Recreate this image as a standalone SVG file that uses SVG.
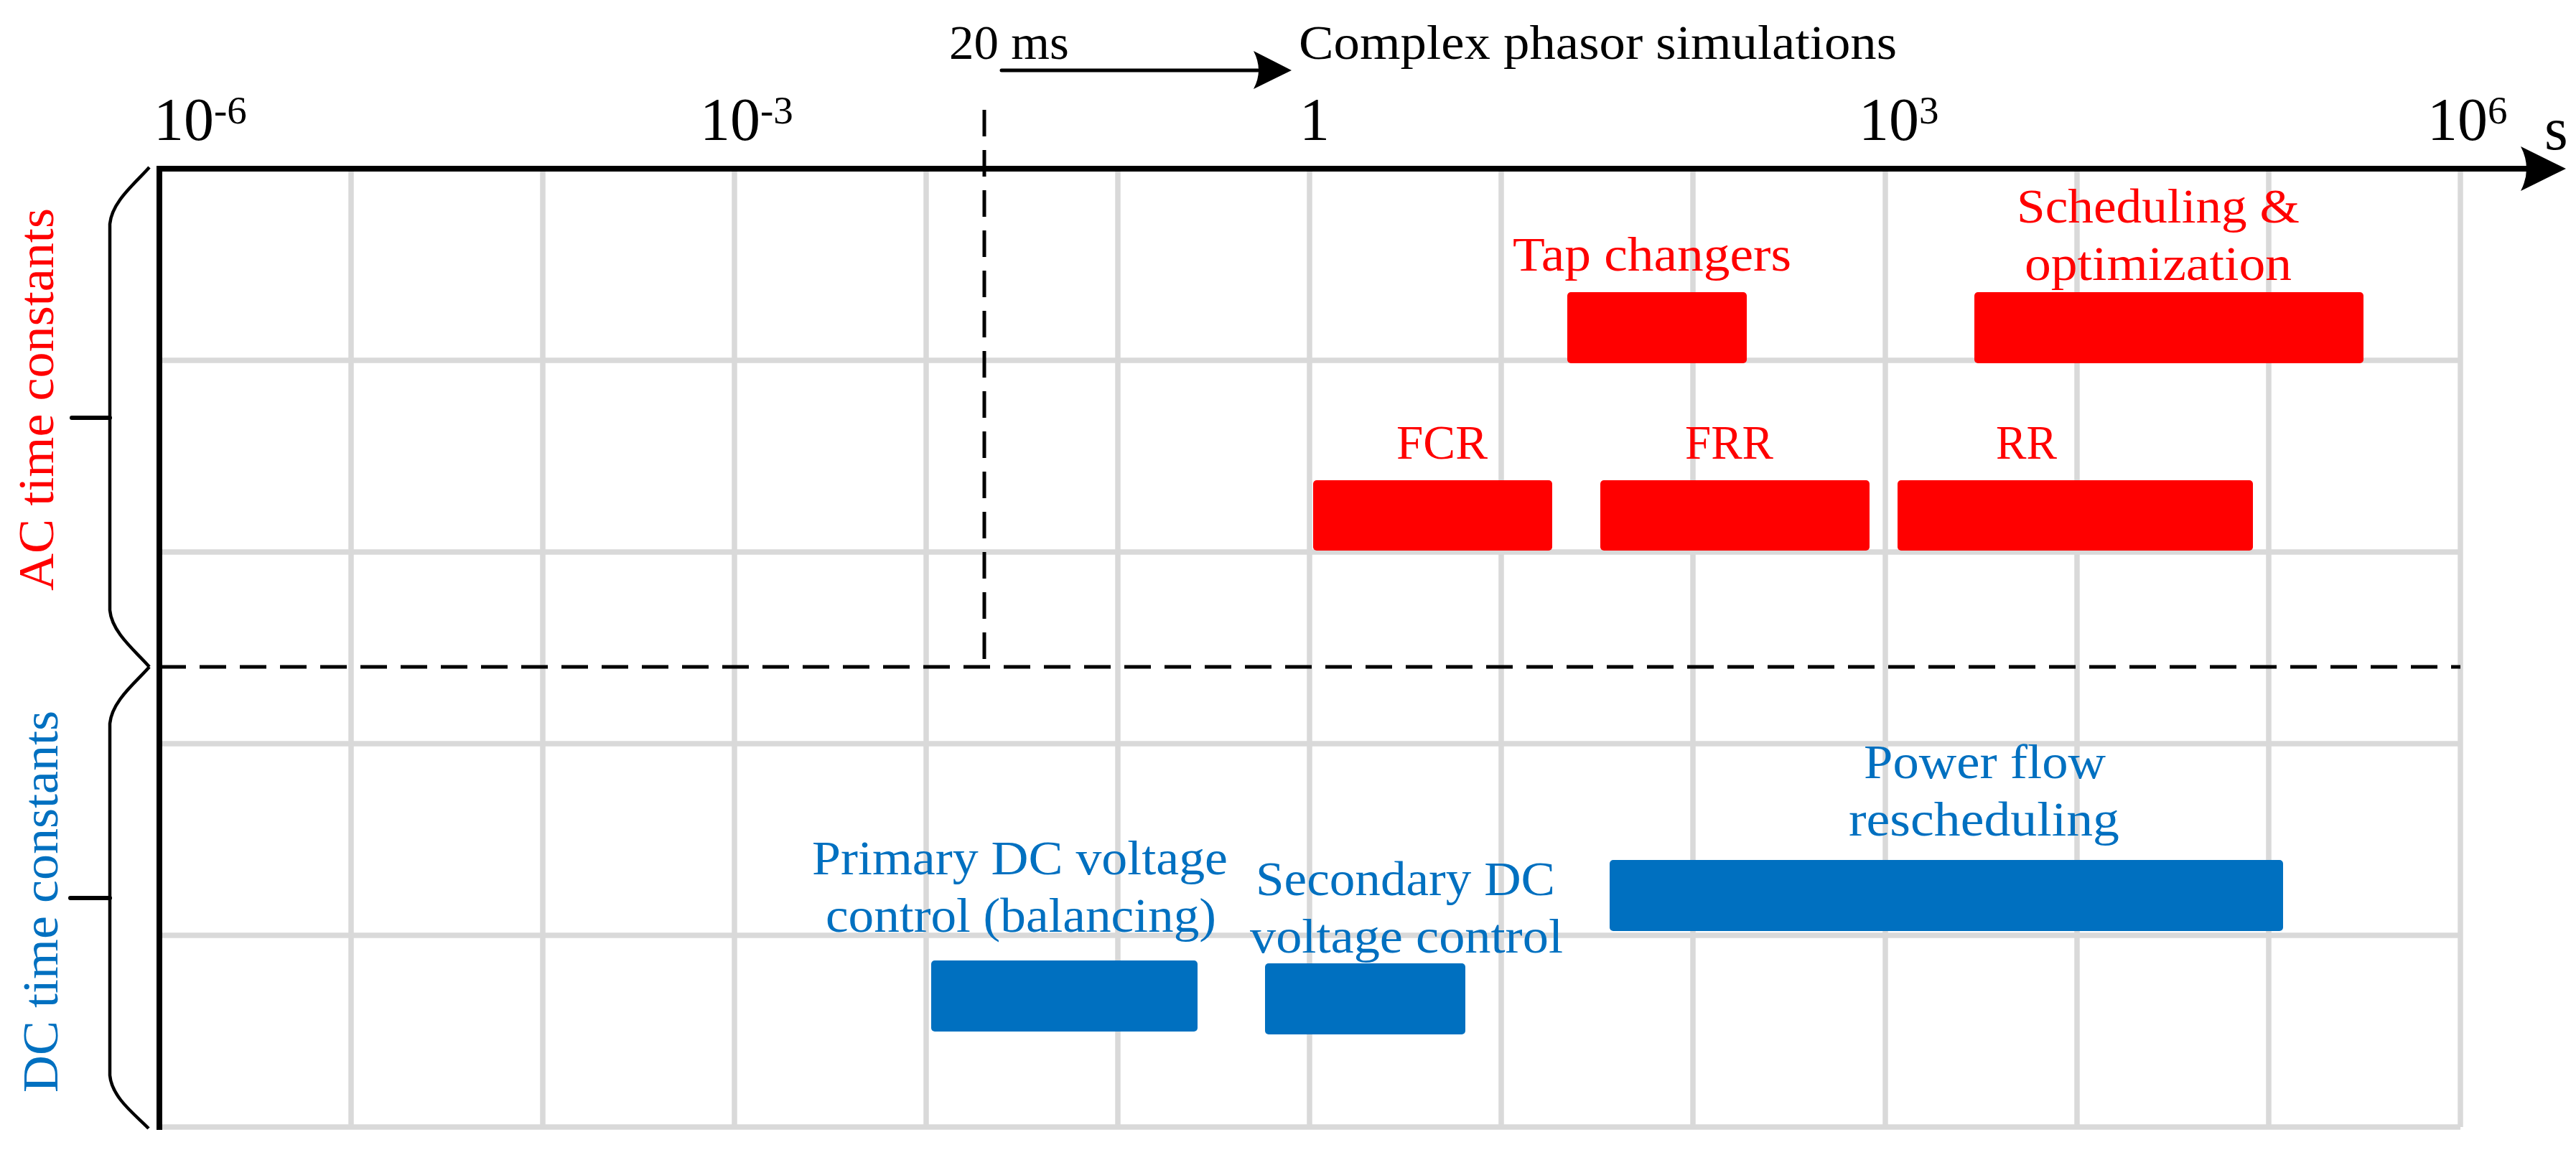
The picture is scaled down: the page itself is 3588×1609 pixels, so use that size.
<svg xmlns="http://www.w3.org/2000/svg" width="3588" height="1609" viewBox="0 0 3588 1609">
<style>
text { font-family: "Liberation Serif", "Times New Roman", serif; }
.grid { stroke: #d9d9d9; stroke-width: 7.5; fill: none; }
.ax { stroke: #000; fill: none; }
.lbl { font-size: 68px; }
.num { font-size: 84px; fill: #000; }
.sup { font-size: 55px; }
.red { fill: #ff0000; }
.blue { fill: #0070c0; }
.brace { stroke: #000; stroke-width: 4.5; fill: none; }
.tick { stroke: #000; stroke-width: 6; stroke-linecap: round; }
.dash { stroke: #000; stroke-width: 5; stroke-dasharray: 37 19; fill: none; }
</style>
<rect width="3588" height="1609" fill="#fff"/>
<g id="grid" class="grid">
<path d="M489,239V1570M756,239V1570M1023,239V1570M1290,239V1570M1557,239V1570M1824,239V1570M2091,239V1570M2358,239V1570M2626,239V1570M2893,239V1570M3160,239V1570M3427,239V1570"/>
<path d="M222,502H3427M222,769H3427M222,1036H3427M222,1303H3427M222,1570H3427"/>
</g>
<g id="bars">
<g id="tap-changers"><rect class="red" x="2183" y="407" width="250" height="99" rx="5"/><text class="lbl red" x="2107" y="377" textLength="388" lengthAdjust="spacingAndGlyphs">Tap changers</text></g>
<g id="scheduling"><rect class="red" x="2750" y="407" width="542" height="99" rx="5"/><text class="lbl red" x="2809" y="310" textLength="394" lengthAdjust="spacingAndGlyphs">Scheduling &amp;</text><text class="lbl red" x="2820" y="390" textLength="372" lengthAdjust="spacingAndGlyphs">optimization</text></g>
<g id="fcr"><rect class="red" x="1829" y="669" width="333" height="98" rx="5"/><text class="lbl red" x="1945" y="639" textLength="127" lengthAdjust="spacingAndGlyphs">FCR</text></g>
<g id="frr"><rect class="red" x="2229" y="669" width="375" height="98" rx="5"/><text class="lbl red" x="2347" y="639" textLength="123" lengthAdjust="spacingAndGlyphs">FRR</text></g>
<g id="rr"><rect class="red" x="2643" y="669" width="495" height="98" rx="5"/><text class="lbl red" x="2780" y="639" textLength="85" lengthAdjust="spacingAndGlyphs">RR</text></g>
<g id="primary-dc"><rect class="blue" x="1297" y="1338" width="371" height="99" rx="5"/><text class="lbl blue" x="1131" y="1218" textLength="579" lengthAdjust="spacingAndGlyphs">Primary DC voltage</text><text class="lbl blue" x="1150" y="1298" textLength="544" lengthAdjust="spacingAndGlyphs">control (balancing)</text></g>
<g id="secondary-dc"><rect class="blue" x="1762" y="1342" width="279" height="99" rx="5"/><text class="lbl blue" x="1749" y="1247" textLength="417" lengthAdjust="spacingAndGlyphs">Secondary DC</text><text class="lbl blue" x="1741" y="1327" textLength="436" lengthAdjust="spacingAndGlyphs">voltage control</text></g>
<g id="power-flow"><rect class="blue" x="2242" y="1198" width="938" height="99" rx="5"/><text class="lbl blue" x="2596" y="1084" textLength="337" lengthAdjust="spacingAndGlyphs">Power flow</text><text class="lbl blue" x="2575" y="1164" textLength="377" lengthAdjust="spacingAndGlyphs">rescheduling</text></g>
</g>
<g id="axes">
<line class="dash" x1="222" y1="929" x2="3427" y2="929"/>
<line class="dash" x1="1371" y1="153" x2="1371" y2="929"/>
<line class="ax" x1="222" y1="231" x2="222" y2="1574" stroke-width="8"/>
<line class="ax" x1="218" y1="235" x2="3522" y2="235" stroke-width="8"/>
<path d="M3574,235 L3511,204 Q3527,235 3511,266 Z" fill="#000"/>
<text class="num" x="3544" y="208">s</text>
<text class="num" x="214" y="195">10<tspan class="sup" dy="-23">-6</tspan></text>
<text class="num" x="975" y="195">10<tspan class="sup" dy="-23">-3</tspan></text>
<text class="num" x="1810" y="195">1</text>
<text class="num" x="2589" y="195">10<tspan class="sup" dy="-23">3</tspan></text>
<text class="num" x="3381" y="195">10<tspan class="sup" dy="-23">6</tspan></text>
</g>
<g id="connectors">
<line x1="1395" y1="98" x2="1752" y2="98" stroke="#000" stroke-width="5" stroke-linecap="round"/>
<path d="M1799,98 L1746,71 Q1760,98 1746,124 Z" fill="#000"/>
</g>
<g id="sim-label">
<text class="lbl" x="1322" y="82" textLength="167" lengthAdjust="spacingAndGlyphs">20 ms</text>
<text class="lbl" x="1809" y="82" font-size="70" textLength="833" lengthAdjust="spacingAndGlyphs">Complex phasor simulations</text>
</g>
<g id="ac-brace">
<path class="brace" d="M208,233 C190,254 156,280 153,312 L153,850 C156,882 190,908 208,929"/>
<line class="tick" x1="100" y1="582" x2="153" y2="582"/>
<text class="red" transform="translate(74,823) rotate(-90)" x="0" y="0" font-size="70" textLength="533" lengthAdjust="spacingAndGlyphs">AC time constants</text>
</g>
<g id="dc-brace">
<path class="brace" d="M208,929 C190,950 156,976 153,1008 L153,1498 C156,1530 190,1554 207,1572"/>
<line class="tick" x1="98" y1="1251" x2="153" y2="1251"/>
<text class="blue" transform="translate(80,1522) rotate(-90)" x="0" y="0" font-size="70" textLength="532" lengthAdjust="spacingAndGlyphs">DC time constants</text>
</g>
</svg>
